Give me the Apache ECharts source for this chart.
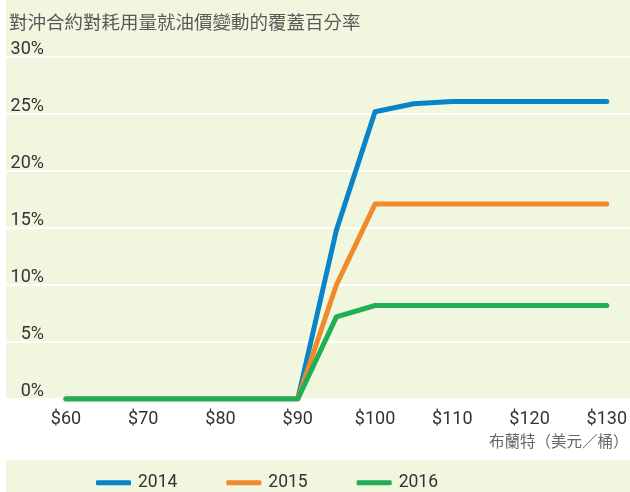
<!DOCTYPE html>
<html>
<head>
<meta charset="utf-8">
<script src="https://cdn.jsdelivr.net/npm/echarts@6/dist/echarts.min.js"></script>
<style>
html,body{margin:0;padding:0;background:#fff;}
#chart{width:630px;height:492px;}
</style>
</head>
<body>
<div id="chart"></div>
<script>
var prices = [60, 65, 70, 75, 80, 85, 90, 95, 100, 105, 110, 115, 120, 125, 130];
var cover2014 = [0, 0, 0, 0, 0, 0, 0, 14.8, 25.2, 25.9, 26.1, 26.1, 26.1, 26.1, 26.1];
var cover2015 = [0, 0, 0, 0, 0, 0, 0, 10.0, 17.1, 17.1, 17.1, 17.1, 17.1, 17.1, 17.1];
var cover2016 = [0, 0, 0, 0, 0, 0, 0, 7.2, 8.2, 8.2, 8.2, 8.2, 8.2, 8.2, 8.2];
var seriesNames = ['2014', '2015', '2016'];
var colors = ['#0a84c9', '#f08a2b', '#22ad57'];
var titleText = '對沖合約對耗用量就油價變動的覆蓋百分率';
var unitText = '布蘭特（美元／桶）';

function pairs(vals) {
  return prices.map(function (p, i) { return [p, vals[i]]; });
}

var chart = echarts.init(document.getElementById('chart'), null, {renderer: 'canvas'});
var font = 'Roboto, "Noto Sans CJK TC", sans-serif';
var bg = '#f1f6df';

function mkSeries(name, vals, color) {
  return {
    name: name,
    type: 'line',
    xAxisIndex: 1,
    yAxisIndex: 1,
    data: pairs(vals),
    symbol: 'none',
    smooth: false,
    lineStyle: {width: 5, color: color, cap: 'round', join: 'round'},
    itemStyle: {color: color},
    emphasis: {disabled: true}
  };
}

chart.setOption({
  animation: false,
  backgroundColor: '#ffffff',
  textStyle: {fontFamily: font},
  graphic: [
    {type: 'rect', z: -100, silent: true, shape: {x: 6, y: 0, width: 624, height: 399}, style: {fill: bg}},
    {type: 'rect', z: -100, silent: true, shape: {x: 6, y: 460, width: 624, height: 32}, style: {fill: bg}}
  ],
  title: [
    {text: titleText, left: 4, top: 10, textStyle: {fontSize: 18.5, fontWeight: 'normal', color: '#5a5a5a', fontFamily: font}},
    {text: unitText, left: 484, top: 430, textStyle: {fontSize: 15.5, fontWeight: 'normal', color: '#666666', fontFamily: font}}
  ],
  legend: {
    left: 91,
    top: 469,
    itemWidth: 35,
    itemHeight: 5,
    itemGap: 49,
    icon: 'roundRect',
    data: seriesNames,
    textStyle: {fontSize: 17.5, color: '#333333', fontFamily: font, padding: [0, 0, 0, 2]}
  },
  grid: [
    {left: 6, right: 0, top: 57, height: 342, containLabel: false},
    {left: 66, right: 23, top: 57, height: 342, containLabel: false}
  ],
  xAxis: [
    {type: 'value', gridIndex: 0, min: 0, max: 1, show: false},
    {
      type: 'value', gridIndex: 1, min: 60, max: 130, interval: 10,
      axisLine: {show: false}, axisTick: {show: false}, splitLine: {show: false},
      axisLabel: {formatter: '${value}', fontSize: 18, color: '#333333', margin: 12, fontFamily: font}
    }
  ],
  yAxis: [
    {
      type: 'value', gridIndex: 0, min: 0, max: 30, interval: 5,
      axisLine: {show: false}, axisTick: {show: false},
      splitLine: {show: true, lineStyle: {color: '#ffffff', width: 2}},
      axisLabel: {
        inside: true, align: 'right', verticalAlign: 'bottom', margin: 38,
        formatter: '{value}%', fontSize: 18, color: '#333333', fontFamily: font, lineHeight: 16
      }
    },
    {type: 'value', gridIndex: 1, min: 0, max: 30, show: false}
  ],
  series: [
    mkSeries(seriesNames[0], cover2014, colors[0]),
    mkSeries(seriesNames[1], cover2015, colors[1]),
    mkSeries(seriesNames[2], cover2016, colors[2])
  ]
});
</script>
</body>
</html>
